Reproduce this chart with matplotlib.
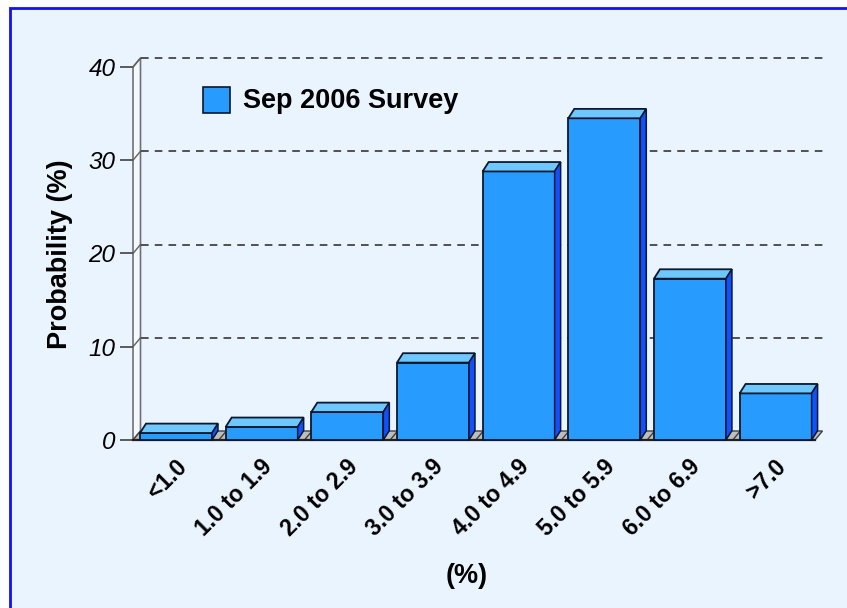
import matplotlib
matplotlib.use("Agg")
import matplotlib.pyplot as plt
from matplotlib.patches import Polygon, Rectangle

plt.rcParams['font.family'] = ['Liberation Sans', 'DejaVu Sans']

categories = ["<1.0", "1.0 to 1.9", "2.0 to 2.9", "3.0 to 3.9",
              "4.0 to 4.9", "5.0 to 5.9", "6.0 to 6.9", ">7.0"]
values = [0.75, 1.4, 3.0, 8.3, 28.8, 34.5, 17.3, 5.0]
yticks = [0, 10, 20, 30, 40]
series_name = "Sep 2006 Survey"

W, H = 847, 608
fig = plt.figure(figsize=(W / 100, H / 100), dpi=100)
fig.patch.set_facecolor('white')

# background panel with blue border
bg = Rectangle((9.5 / W, -0.02), 1.0, 1 - 8.5 / H + 0.02, transform=fig.transFigure,
               facecolor='#EAF4FF', edgecolor='#1010F0', lw=2.0, zorder=-10)
fig.patches.append(bg)

# axes geometry in pixels
left_px, right_px = 133, 815
bot_px, top_px = 440, 67
ax = fig.add_axes([left_px / W, 1 - bot_px / H, (right_px - left_px) / W, (bot_px - top_px) / H])
ax.set_facecolor('none')
x0, x1 = -0.502, 7.46
ax.set_xlim(x0, x1)
ax.set_ylim(0, 40)
for s in ax.spines.values():
    s.set_visible(False)

pxx = (right_px - left_px) / (x1 - x0)   # px per x unit
pxy = (bot_px - top_px) / 40.0           # px per y unit
ddx = 7.5 / pxx
ddy = 9.0 / pxy
bdx = 6.0 / pxx
bdy = 9.4 / pxy

# left wall
wall = Polygon([(x0, 0), (x0 + ddx, ddy), (x0 + ddx, 40 + ddy), (x0, 40)], closed=True,
               facecolor='#F4F8FF', edgecolor='#707070', lw=1.2, clip_on=False, zorder=1)
ax.add_patch(wall)

# gridlines on back wall
for t in yticks[1:]:
    ax.plot([x0 + ddx, x1 + ddx], [t + ddy, t + ddy], ls=(0, (5, 4)), color='#252525',
            lw=1.1, clip_on=False, zorder=1)
    ax.plot([x0, x0 + ddx], [t, t + ddy], color='#606060', lw=1.0, clip_on=False, zorder=2)

# floor
floor = Polygon([(x0, 0), (x1, 0), (x1 + ddx, ddy), (x0 + ddx, ddy)], closed=True,
                facecolor='#BDBDBD', edgecolor='#404040', lw=1.0, clip_on=False, zorder=2)
ax.add_patch(floor)
for i in range(len(categories)):
    b = i + 0.5
    if b < x1:
        ax.plot([b, b + ddx], [0, ddy], color='#404040', lw=1.0, clip_on=False, zorder=2)
ax.plot([x0, x1], [0, 0], color='#202020', lw=1.6, clip_on=False, zorder=3)

# bars
bw = 72.0 / pxx
face, top_c, side_c, edge = '#289BFF', '#6EC8FF', '#1050FF', '#0A1830'
for i, v in enumerate(values):
    l, r = i - bw / 2, i + bw / 2
    ax.add_patch(Polygon([(l, 0), (r, 0), (r, v), (l, v)], closed=True,
                         facecolor=face, edgecolor=edge, lw=1.3, zorder=5, clip_on=False))
    ax.add_patch(Polygon([(l, v), (r, v), (r + bdx, v + bdy), (l + bdx, v + bdy)], closed=True,
                         facecolor=top_c, edgecolor=edge, lw=1.3, zorder=5, clip_on=False))
    ax.add_patch(Polygon([(r, 0), (r + bdx, bdy), (r + bdx, v + bdy), (r, v)], closed=True,
                         facecolor=side_c, edgecolor=edge, lw=1.1, zorder=5, clip_on=False))

# y axis ticks
ax.set_yticks(yticks)
ax.set_yticklabels([str(t) for t in yticks], fontsize=17.5, fontstyle='italic')
ax.tick_params(axis='y', length=9.5, width=1.2, color='#404040', pad=3)
ax.set_xticks([])

# x tick labels (rotated)
for i, c in enumerate(categories):
    ax.text(i - 1.0 / pxx, -15.0 / pxy, c, rotation=45, ha='right', va='top',
            rotation_mode='anchor', fontsize=16.5, fontweight='bold', clip_on=False)

# axis labels
fig.text(60 / W, 1 - 254 / H, "Probability (%)", rotation=90, ha='center', va='center',
         fontsize=19.5, fontweight='bold')
fig.text(467 / W, 1 - 576 / H, "(%)", ha='center', va='center', fontsize=19.5, fontweight='bold')

# legend
fig.patches.append(Rectangle((203 / W, 1 - 113 / H), 27 / W, 26 / H, transform=fig.transFigure,
                             facecolor=face, edgecolor=edge, lw=1.2))
fig.text(243 / W, 1 - 101 / H, series_name, ha='left', va='center', fontsize=19.5, fontweight='bold')

fig.savefig("out.png", dpi=100, facecolor=fig.get_facecolor())
